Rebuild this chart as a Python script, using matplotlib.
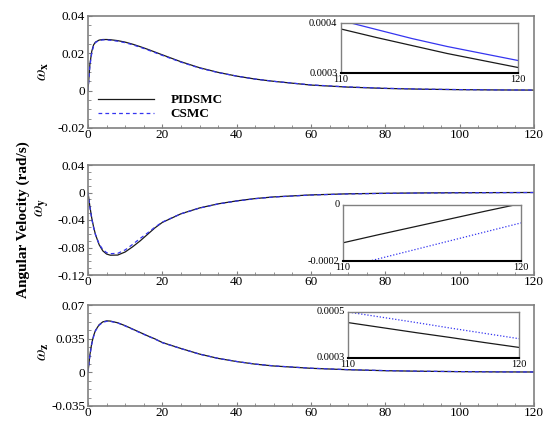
import numpy as np
import matplotlib
matplotlib.use("Agg")
import matplotlib.pyplot as plt
from matplotlib.ticker import MultipleLocator

plt.rcParams['font.family'] = ['Liberation Serif', 'DejaVu Serif']
plt.rcParams['mathtext.fontset'] = 'stix'

# time samples (s)
t = [0, 0.5, 1, 1.5, 2, 3, 4, 5, 6, 8, 10, 12, 14, 16, 18, 20, 25, 30, 35, 40,
     45, 50, 60, 70, 80, 90, 100, 110, 112, 114, 116, 118, 120]

# omega_x
wx_pid = [0, 0.014, 0.021, 0.0245, 0.026, 0.0271, 0.0274, 0.0274, 0.0273, 0.0268,
          0.0260, 0.0249, 0.0236, 0.0222, 0.0207, 0.0192, 0.0155, 0.0123, 0.0098,
          0.0078, 0.0062, 0.0050, 0.0030, 0.0019, 0.0012, 0.00078, 0.00054,
          0.000388, 0.000371, 0.000355, 0.000339, 0.000325, 0.000311]
wx_csmc = [0, 0.013, 0.020, 0.024, 0.0258, 0.0269, 0.0272, 0.0272, 0.0270, 0.0265,
           0.0257, 0.0246, 0.0233, 0.0219, 0.0204, 0.0189, 0.0153, 0.0121, 0.0097,
           0.0078, 0.0062, 0.0050, 0.0031, 0.0020, 0.00128, 0.00083, 0.00057,
           0.000405, 0.000387, 0.000369, 0.000353, 0.000339, 0.000325]

# omega_y
wy_pid = [0, -0.020, -0.037, -0.050, -0.061, -0.076, -0.085, -0.0895, -0.0912, -0.0910,
          -0.0865, -0.079, -0.0705, -0.061, -0.0515, -0.0435, -0.031, -0.0225, -0.0165,
          -0.0122, -0.0088, -0.0064, -0.0035, -0.0019, -0.0011, -0.00062, -0.00033,
          -0.000135, -0.000106, -0.000078, -0.00005, -0.000022, 0.000005]
wy_csmc = [0, -0.021, -0.038, -0.051, -0.061, -0.075, -0.083, -0.0875, -0.089, -0.0885,
           -0.0835, -0.0755, -0.067, -0.059, -0.0505, -0.043, -0.031, -0.0227, -0.0167,
           -0.0124, -0.009, -0.0066, -0.0037, -0.0021, -0.0013, -0.00075, -0.00042,
           -0.000224, -0.000192, -0.00016, -0.000128, -0.000096, -0.000064]

# omega_z
wz_pid = [0, 0.018, 0.030, 0.038, 0.0435, 0.0495, 0.0525, 0.0535, 0.0533, 0.0515,
          0.0485, 0.045, 0.0415, 0.038, 0.0348, 0.031, 0.0248, 0.019, 0.0145,
          0.0112, 0.0085, 0.0066, 0.0042, 0.0027, 0.0017, 0.0011, 0.00072,
          0.000454, 0.000432, 0.000410, 0.000389, 0.000367, 0.000346]
wz_csmc = [0, 0.017, 0.029, 0.037, 0.043, 0.049, 0.052, 0.053, 0.053, 0.0513,
           0.0482, 0.0447, 0.0412, 0.0378, 0.0346, 0.0308, 0.0247, 0.0189, 0.0145,
           0.0113, 0.0086, 0.0067, 0.0043, 0.0028, 0.0018, 0.00115, 0.00076,
           0.0005, 0.000477, 0.000454, 0.00043, 0.000407, 0.000384]

xticks = [0, 20, 40, 60, 80, 100, 120]
yticks_x = [-0.02, 0, 0.02, 0.04]
ylabels_x = ['-0.02', '0', '0.02', '0.04']
yticks_y = [-0.12, -0.08, -0.04, 0, 0.04]
ylabels_y = ['-0.12', '-0.08', '-0.04', '0', '0.04']
yticks_z = [-0.035, 0, 0.035, 0.07]
ylabels_z = ['-0.035', '0', '0.035', '0.07']

W, H = 544, 421
fig = plt.figure(figsize=(W / 100, H / 100), dpi=100)


def px_axes(x0, y0, x1, y1):
    return fig.add_axes([x0 / W, 1 - y1 / H, (x1 - x0) / W, (y1 - y0) / H])


black = '#1a1a1a'
blue = '#3535f0'
grey = '#808080'


def main_panel(ax, a, b, yt, yl, ymin, ymax, yminor):
    ax.plot(t, a, color=black, lw=0.9, label='PIDSMC')
    ax.plot(t, b, color=blue, lw=0.9, ls=(0, (3, 2.5)), label='CSMC')
    ax.set_xlim(0, 120)
    ax.set_ylim(ymin, ymax)
    ax.set_xticks(xticks)
    ax.set_yticks(yt)
    ax.set_yticklabels(yl)
    ax.xaxis.set_minor_locator(MultipleLocator(5))
    ax.yaxis.set_minor_locator(MultipleLocator(yminor))
    ax.tick_params(which='both', direction='in', color=grey, labelsize=9.5, pad=2,
                   top=False, right=False)
    ax.tick_params(axis='x', pad=1)
    ax.tick_params(which='major', length=3)
    ax.tick_params(which='minor', length=2)
    for s in ax.spines.values():
        s.set_color(grey)
        s.set_linewidth(1.2)


def inset(ax, a, b, ls, ymin, ymax, ylo, yhi):
    ax.plot(t, a, color=black, lw=0.9)
    ax.plot(t, b, color=blue, lw=0.9, ls=ls)
    ax.set_xlim(110, 120)
    ax.set_ylim(ymin, ymax)
    ax.set_xticks([])
    ax.set_yticks([])
    for s in ax.spines.values():
        s.set_color(grey)
        s.set_linewidth(1.0)
    ax.spines['bottom'].set_color('black')
    ax.spines['bottom'].set_linewidth(1.5)
    fs = 7.5
    ax.text(-0.02, 1.0, yhi, transform=ax.transAxes, ha='right', va='center', fontsize=fs)
    ax.text(-0.02, 0.0, ylo, transform=ax.transAxes, ha='right', va='center', fontsize=fs)
    ax.text(0.0, -0.04, '110', transform=ax.transAxes, ha='center', va='top', fontsize=fs)
    ax.text(1.0, -0.04, '120', transform=ax.transAxes, ha='center', va='top', fontsize=fs)


ax1 = px_axes(88, 16, 534, 128)
main_panel(ax1, wx_pid, wx_csmc, yticks_x, ylabels_x, -0.02, 0.04, 0.005)
leg = ax1.legend(loc='lower left', bbox_to_anchor=(0.01, 0.02), frameon=False,
                 handlelength=4.3, prop={'weight': 'bold', 'size': 9.5},
                 borderaxespad=0, labelspacing=0.15, handletextpad=1.2)

ax2 = px_axes(88, 165, 534, 275)
main_panel(ax2, wy_pid, wy_csmc, yticks_y, ylabels_y, -0.12, 0.04, 0.01)

ax3 = px_axes(88, 305, 534, 406)
main_panel(ax3, wz_pid, wz_csmc, yticks_z, ylabels_z, -0.035, 0.07, 0.00875)

in1 = px_axes(341, 23, 518, 73)
inset(in1, wx_pid, wx_csmc, '-', 0.0003, 0.0004, '0.0003', '0.0004')
in2 = px_axes(343, 205, 521, 261)
inset(in2, wy_pid, wy_csmc, (0, (1, 1.5)), -0.0002, 0.0, '-0.0002', '0')
in3 = px_axes(348, 312, 519, 358)
inset(in3, wz_pid, wz_csmc, (0, (1, 1.5)), 0.0003, 0.0005, '0.0003', '0.0005')

for ax, sub, yc in [(ax1, 'x', 72), (ax2, 'y', 208), (ax3, 'z', 352)]:
    fig.text(43 / W, 1 - yc / H, r'$\omega_{\mathbf{' + sub + '}}$', rotation=90,
             ha='center', va='center', fontsize=12, fontweight='bold')

fig.text(23 / W, 1 - 220 / H, 'Angular Velocity (rad/s)', rotation=90,
         ha='center', va='center', fontsize=11, fontweight='bold')

fig.savefig('out.png', dpi=100)
